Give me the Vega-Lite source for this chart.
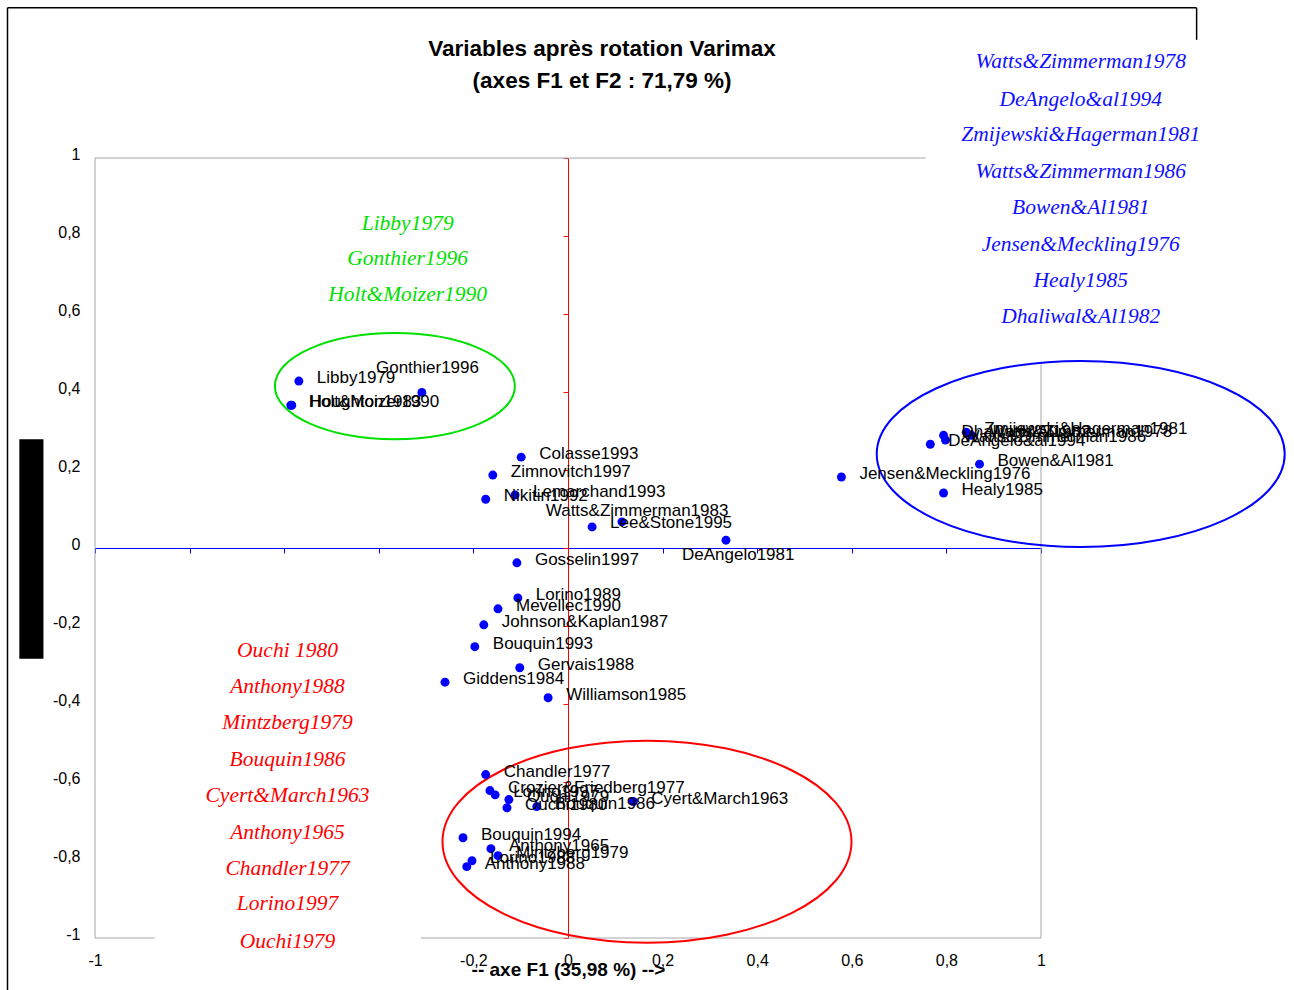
{
  "$schema": "https://vega.github.io/schema/vega-lite/v6.json",
  "width": 946,
  "height": 780,
  "autosize": {"type": "none"},
  "padding": {"left": 95, "top": 158, "right": 253, "bottom": 52},
  "background": "white",
  "config": {"view": {"stroke": null}, "axis": {"grid": false}},
  "resolve": {"axis": {"x": "independent", "y": "independent"}},
  "datasets": {
    "titles": [
      {"text": "Variables après rotation Varimax", "x": 0.072, "y": 1.28},
      {"text": "(axes F1 et F2 : 71,79 %)", "x": 0.072, "y": 1.198}
    ],
    "pts": [
      {"name": "Libby1979", "x": -0.569, "y": 0.428},
      {"name": "Gonthier1996", "x": -0.309, "y": 0.399, "lx": -0.406, "ly": 0.461},
      {"name": "Holt&Moizer1990", "x": -0.586, "y": 0.366},
      {"name": "Houghton1983", "x": -0.584, "y": 0.366},
      {"name": "Colasse1993", "x": -0.099, "y": 0.233},
      {"name": "Zimnovitch1997", "x": -0.159, "y": 0.187},
      {"name": "Lemarchand1993", "x": -0.112, "y": 0.136},
      {"name": "Nikitin1992", "x": -0.174, "y": 0.125},
      {"name": "Watts&Zimmerman1983", "x": 0.051, "y": 0.054, "lx": -0.047, "ly": 0.095},
      {"name": "Lee&Stone1995", "x": 0.114, "y": 0.067, "lx": 0.089, "ly": 0.064},
      {"name": "DeAngelo1981", "x": 0.334, "y": 0.02, "lx": 0.241, "ly": -0.018},
      {"name": "Gosselin1997", "x": -0.108, "y": -0.038},
      {"name": "Lorino1989", "x": -0.106, "y": -0.128},
      {"name": "Mevellec1990", "x": -0.148, "y": -0.156},
      {"name": "Johnson&Kaplan1987", "x": -0.178, "y": -0.197},
      {"name": "Bouquin1993", "x": -0.197, "y": -0.253},
      {"name": "Gervais1988", "x": -0.102, "y": -0.307},
      {"name": "Giddens1984", "x": -0.26, "y": -0.344},
      {"name": "Williamson1985", "x": -0.042, "y": -0.384},
      {"name": "Chandler1977", "x": -0.174, "y": -0.581},
      {"name": "Crozier&Friedberg1977", "x": -0.165, "y": -0.622},
      {"name": "Lorino1997", "x": -0.154, "y": -0.633},
      {"name": "Ouchi1979", "x": -0.125, "y": -0.645},
      {"name": "Ouchi1980", "x": -0.129, "y": -0.666},
      {"name": "Bouquin1986", "x": -0.066, "y": -0.663},
      {"name": "Cyert&March1963", "x": 0.138, "y": -0.65},
      {"name": "Bouquin1994", "x": -0.222, "y": -0.743},
      {"name": "Anthony1965", "x": -0.163, "y": -0.771},
      {"name": "Mintzberg1979", "x": -0.148, "y": -0.789},
      {"name": "Lorino1988", "x": -0.203, "y": -0.802},
      {"name": "Anthony1988", "x": -0.214, "y": -0.817},
      {"name": "Jensen&Meckling1976", "x": 0.578, "y": 0.182},
      {"name": "Healy1985", "x": 0.794, "y": 0.141},
      {"name": "Bowen&Al1981", "x": 0.87, "y": 0.215},
      {"name": "Dhaliwal&Al1982", "x": 0.794, "y": 0.289},
      {"name": "DeAngelo&al1994", "x": 0.766, "y": 0.266},
      {"name": "Watts&Zimmerman1978", "x": 0.853, "y": 0.289},
      {"name": "Zmijewski&Hagerman1981", "x": 0.842, "y": 0.297},
      {"name": "Watts&Zimmerman1986", "x": 0.798, "y": 0.277}
    ],
    "lists": [
      {"group": "blue", "name": "Watts&Zimmerman1978", "x": 1.084, "y": 1.245},
      {"group": "blue", "name": "DeAngelo&al1994", "x": 1.084, "y": 1.15},
      {"group": "blue", "name": "Zmijewski&Hagerman1981", "x": 1.084, "y": 1.058},
      {"group": "blue", "name": "Watts&Zimmerman1986", "x": 1.084, "y": 0.963},
      {"group": "blue", "name": "Bowen&Al1981", "x": 1.084, "y": 0.871},
      {"group": "blue", "name": "Jensen&Meckling1976", "x": 1.084, "y": 0.778},
      {"group": "blue", "name": "Healy1985", "x": 1.084, "y": 0.684},
      {"group": "blue", "name": "Dhaliwal&Al1982", "x": 1.084, "y": 0.592},
      {"group": "green", "name": "Libby1979", "x": -0.339, "y": 0.832},
      {"group": "green", "name": "Gonthier1996", "x": -0.339, "y": 0.74},
      {"group": "green", "name": "Holt&Moizer1990", "x": -0.339, "y": 0.648},
      {"group": "red", "name": "Ouchi 1980", "x": -0.593, "y": -0.264},
      {"group": "red", "name": "Anthony1988", "x": -0.593, "y": -0.356},
      {"group": "red", "name": "Mintzberg1979", "x": -0.593, "y": -0.448},
      {"group": "red", "name": "Bouquin1986", "x": -0.593, "y": -0.543},
      {"group": "red", "name": "Cyert&March1963", "x": -0.593, "y": -0.635},
      {"group": "red", "name": "Anthony1965", "x": -0.593, "y": -0.73},
      {"group": "red", "name": "Chandler1977", "x": -0.593, "y": -0.822},
      {"group": "red", "name": "Lorino1997", "x": -0.593, "y": -0.914},
      {"group": "red", "name": "Ouchi1979", "x": -0.593, "y": -1.009}
    ],
    "ell": [
      {"group": "green", "x": -0.366, "y": 0.415},
      {"group": "red", "x": 0.167, "y": -0.753},
      {"group": "blue", "x": 1.084, "y": 0.241}
    ]
  },
  "layer": [
    {
      "data": {"values": [{}]},
      "mark": {"type": "rule", "color": "#a6a6a6", "strokeWidth": 1},
      "encoding": {
        "x": {"datum": -1, "type": "quantitative", "scale": {"domain": [-1, 1], "nice": false, "zero": false}, "axis": null},
        "x2": {"datum": 0.756},
        "y": {"datum": 1, "type": "quantitative", "scale": {"domain": [-1, 1], "nice": false, "zero": false}, "axis": null}
      }
    },
    {
      "data": {"values": [{}]},
      "mark": {"type": "rule", "color": "#a6a6a6", "strokeWidth": 1},
      "encoding": {
        "x": {"datum": -1, "type": "quantitative", "axis": null},
        "y": {"datum": -1, "type": "quantitative", "axis": null},
        "y2": {"datum": 1}
      }
    },
    {
      "data": {"values": [{}]},
      "mark": {"type": "rule", "color": "#a6a6a6", "strokeWidth": 1},
      "encoding": {
        "x": {"datum": 1, "type": "quantitative", "axis": null},
        "y": {"datum": 0.471, "type": "quantitative", "axis": null},
        "y2": {"datum": -1}
      }
    },
    {
      "data": {"values": [{}]},
      "mark": {"type": "rule", "color": "#a6a6a6", "strokeWidth": 1},
      "encoding": {
        "x": {"datum": -1, "type": "quantitative", "axis": null},
        "x2": {"datum": -0.874},
        "y": {"datum": -1, "type": "quantitative", "axis": null}
      }
    },
    {
      "data": {"values": [{}]},
      "mark": {"type": "rule", "color": "#a6a6a6", "strokeWidth": 1},
      "encoding": {
        "x": {"datum": -0.311, "type": "quantitative", "axis": null},
        "x2": {"datum": 1},
        "y": {"datum": -1, "type": "quantitative", "axis": null}
      }
    },
    {
      "data": {"values": [{}]},
      "mark": {"type": "rule", "color": "#000000", "strokeWidth": 1.5},
      "encoding": {
        "x": {"datum": -1.185, "type": "quantitative", "axis": null},
        "x2": {"datum": 1.329},
        "y": {"datum": 1.385, "type": "quantitative", "axis": null}
      }
    },
    {
      "data": {"values": [{}]},
      "mark": {"type": "rule", "color": "#000000", "strokeWidth": 1.5},
      "encoding": {
        "x": {"datum": -1.185, "type": "quantitative", "axis": null},
        "y": {"datum": 1.385, "type": "quantitative", "axis": null},
        "y2": {"datum": -1.135}
      }
    },
    {
      "data": {"values": [{}]},
      "mark": {"type": "rule", "color": "#000000", "strokeWidth": 1.5},
      "encoding": {
        "x": {"datum": 1.329, "type": "quantitative", "axis": null},
        "y": {"datum": 1.385, "type": "quantitative", "axis": null},
        "y2": {"datum": 1.303}
      }
    },
    {
      "data": {"values": [{}]},
      "mark": {"type": "rect", "color": "#000000"},
      "encoding": {
        "x": {"datum": -1.16, "type": "quantitative", "axis": null},
        "x2": {"datum": -1.109},
        "y": {"datum": 0.279, "type": "quantitative", "axis": null},
        "y2": {"datum": -0.284}
      }
    },
    {
      "data": {"values": [{}]},
      "mark": {"type": "rule", "opacity": 0},
      "encoding": {
        "x": {"datum": 0, "type": "quantitative", "axis": {
          "orient": "bottom", "offset": -390, "labels": false, "title": null,
          "domain": true, "domainColor": "#0000ff", "domainWidth": 1,
          "ticks": true, "tickColor": "#0000ff", "tickSize": 5, "tickWidth": 1,
          "values": [-1, -0.8, -0.6, -0.4, -0.2, 0, 0.2, 0.4, 0.6, 0.8, 1]
        }},
        "y": {"datum": 0, "type": "quantitative", "axis": {
          "orient": "left", "offset": -473, "labels": false, "title": null,
          "domain": true, "domainColor": "#ff0000", "domainWidth": 1,
          "ticks": true, "tickColor": "#ff0000", "tickSize": 5, "tickWidth": 1,
          "values": [-1, -0.8, -0.6, -0.4, -0.2, 0, 0.2, 0.4, 0.6, 0.8, 1]
        }}
      }
    },
    {
      "data": {"name": "ell"},
      "transform": [{"filter": "datum.group === 'green'"}],
      "mark": {"type": "point", "filled": false, "color": "#00e000", "strokeWidth": 2, "opacity": 1,
        "shape": "M -1 0 A 1 0.442 0 1 1 1 0 A 1 0.442 0 1 1 -1 0 Z", "size": 57600},
      "encoding": {
        "x": {"field": "x", "type": "quantitative", "axis": null},
        "y": {"field": "y", "type": "quantitative", "axis": null}
      }
    },
    {
      "data": {"name": "ell"},
      "transform": [{"filter": "datum.group === 'red'"}],
      "mark": {"type": "point", "filled": false, "color": "#ff0000", "strokeWidth": 2, "opacity": 1,
        "shape": "M -1 0 A 1 0.494 0 1 1 1 0 A 1 0.494 0 1 1 -1 0 Z", "size": 167281},
      "encoding": {
        "x": {"field": "x", "type": "quantitative", "axis": null},
        "y": {"field": "y", "type": "quantitative", "axis": null}
      }
    },
    {
      "data": {"name": "ell"},
      "transform": [{"filter": "datum.group === 'blue'"}],
      "mark": {"type": "point", "filled": false, "color": "#0000ff", "strokeWidth": 2, "opacity": 1,
        "shape": "M -1 0 A 1 0.456 0 1 1 1 0 A 1 0.456 0 1 1 -1 0 Z", "size": 166464},
      "encoding": {
        "x": {"field": "x", "type": "quantitative", "axis": null},
        "y": {"field": "y", "type": "quantitative", "axis": null}
      }
    },
    {
      "data": {"name": "pts"},
      "mark": {"type": "point", "filled": true, "color": "#0000ff", "size": 80, "opacity": 1, "shape": "circle"},
      "encoding": {
        "x": {"field": "x", "type": "quantitative", "scale": {"domain": [-1, 1], "nice": false, "zero": false},
          "axis": {
            "orient": "bottom", "values": [-1, -0.2, 0, 0.2, 0.4, 0.6, 0.8, 1],
            "labelExpr": "replace(toString(datum.value), '.', ',')",
            "domain": false, "ticks": false, "tickSize": 0, "labelPadding": 14,
            "labelFont": "Liberation Sans", "labelFontSize": 16, "labelColor": "#000000",
            "labelFlush": false, "labelOverlap": false,
            "title": "-- axe F1 (35,98 %) -->", "titleFont": "Liberation Sans", "titleFontSize": 19,
            "titleFontWeight": "bold", "titleColor": "#000000", "titlePadding": -8
          }},
        "y": {"field": "y", "type": "quantitative", "scale": {"domain": [-1, 1], "nice": false, "zero": false},
          "axis": {
            "orient": "left", "values": [-1, -0.8, -0.6, -0.4, -0.2, 0, 0.2, 0.4, 0.6, 0.8, 1],
            "labelExpr": "replace(toString(datum.value), '.', ',')",
            "domain": false, "ticks": false, "tickSize": 0, "labelPadding": 15, "labelOffset": -4,
            "labelFont": "Liberation Sans", "labelFontSize": 16, "labelColor": "#000000",
            "labelFlush": false, "labelOverlap": false, "title": null
          }}
      }
    },
    {
      "data": {"name": "pts"},
      "transform": [{"filter": "!isValid(datum.lx)"}],
      "mark": {"type": "text", "align": "left", "baseline": "middle", "dx": 18, "dy": -3,
        "font": "Liberation Sans", "fontSize": 17, "color": "#000000"},
      "encoding": {
        "x": {"field": "x", "type": "quantitative", "axis": null},
        "y": {"field": "y", "type": "quantitative", "axis": null},
        "text": {"field": "name"}
      }
    },
    {
      "data": {"name": "pts"},
      "transform": [{"filter": "isValid(datum.lx)"}],
      "mark": {"type": "text", "align": "left", "baseline": "middle",
        "font": "Liberation Sans", "fontSize": 17, "color": "#000000"},
      "encoding": {
        "x": {"field": "lx", "type": "quantitative", "axis": null},
        "y": {"field": "ly", "type": "quantitative", "axis": null},
        "text": {"field": "name"}
      }
    },
    {
      "data": {"name": "lists"},
      "mark": {"type": "text", "align": "center", "baseline": "middle",
        "font": "Liberation Serif", "fontStyle": "italic", "fontSize": 21.5},
      "encoding": {
        "x": {"field": "x", "type": "quantitative", "axis": null},
        "y": {"field": "y", "type": "quantitative", "axis": null},
        "text": {"field": "name"},
        "color": {"field": "group", "type": "nominal",
          "scale": {"domain": ["blue", "green", "red"], "range": ["#1010ff", "#00e000", "#ff0000"]},
          "legend": null}
      }
    },
    {
      "data": {"name": "titles"},
      "mark": {"type": "text", "align": "center", "baseline": "middle",
        "font": "Liberation Sans", "fontWeight": "bold", "fontSize": 22.5, "color": "#000000"},
      "encoding": {
        "x": {"field": "x", "type": "quantitative", "axis": null},
        "y": {"field": "y", "type": "quantitative", "axis": null},
        "text": {"field": "text"}
      }
    }
  ]
}
